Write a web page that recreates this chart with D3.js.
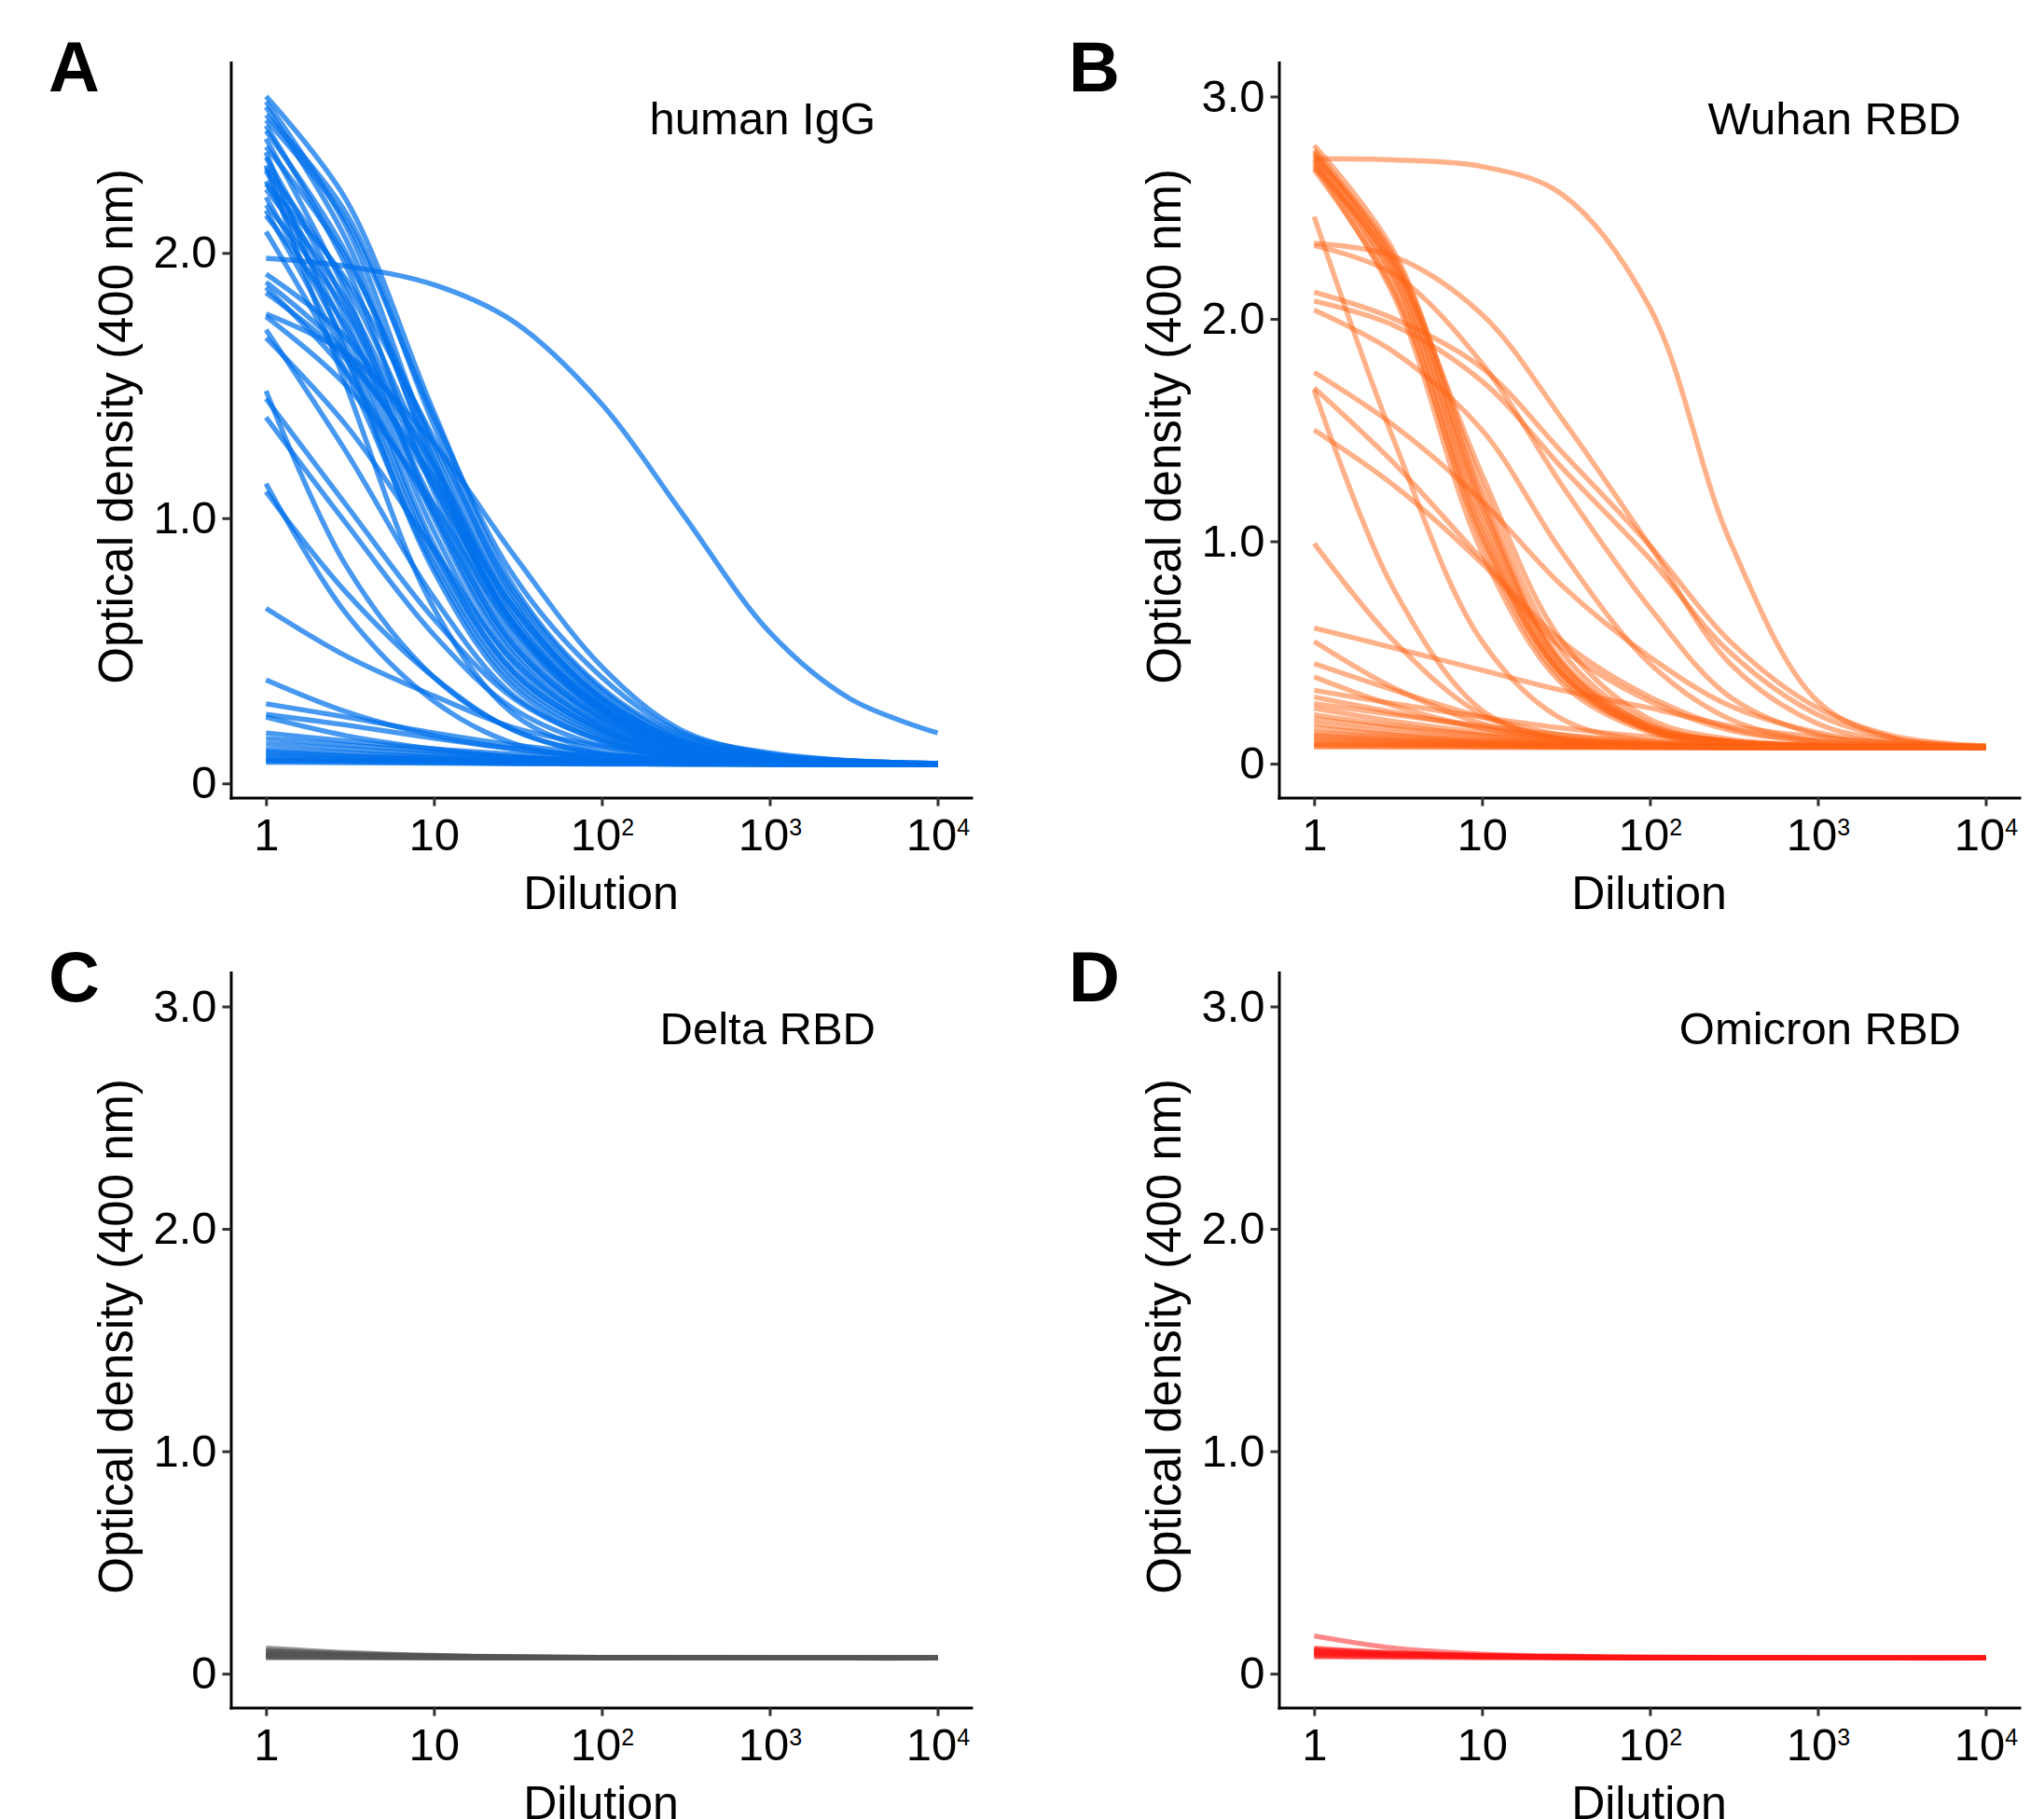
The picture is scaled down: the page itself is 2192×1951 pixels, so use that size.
<!DOCTYPE html>
<html>
<head>
<meta charset="utf-8">
<script src="https://cdn.jsdelivr.net/npm/d3@7/dist/d3.min.js"></script>
<style>
  body { margin: 0; background: #fff; }
  text { font-family: "Liberation Sans", Arial, sans-serif; }
</style>
</head>
<body>
<svg id="chart" width="2192" height="1951"></svg>
<script>
// dilution series every curve is read at
const dilutions = [1, 3, 10, 30, 100, 300, 1000, 3000, 10000];
const xTicks = [1, 10, 100, 1000, 10000];
const xTickLabels = [["1", ""], ["10", ""], ["10", "2"], ["10", "3"], ["10", "4"]];
const yTicksA = [0, 1, 2];
const yTicksB = [0, 1, 2, 3];

// optical density per sample, one row per curve (values at the dilutions above)
const humanIgG = [
  [2.59, 2.20, 1.40, 0.74, 0.36, 0.18, 0.11, 0.085, 0.075],
  [2.57, 2.10, 1.25, 0.64, 0.30, 0.15, 0.10, 0.08, 0.074],
  [2.55, 2.05, 1.20, 0.60, 0.28, 0.14, 0.095, 0.08, 0.074],
  [2.52, 2.15, 1.35, 0.70, 0.33, 0.16, 0.10, 0.082, 0.074],
  [2.50, 2.12, 1.38, 0.78, 0.40, 0.19, 0.115, 0.086, 0.075],
  [2.48, 1.95, 1.10, 0.55, 0.26, 0.13, 0.09, 0.078, 0.073],
  [2.46, 2.00, 1.22, 0.62, 0.29, 0.145, 0.095, 0.08, 0.074],
  [2.43, 1.85, 1.02, 0.50, 0.24, 0.125, 0.09, 0.078, 0.073],
  [2.40, 1.98, 1.28, 0.68, 0.32, 0.16, 0.10, 0.082, 0.074],
  [2.38, 1.62, 0.80, 0.36, 0.17, 0.10, 0.082, 0.075, 0.072],
  [2.36, 1.80, 1.00, 0.48, 0.22, 0.12, 0.088, 0.077, 0.073],
  [2.33, 1.50, 0.66, 0.26, 0.12, 0.09, 0.08, 0.075, 0.072],
  [2.32, 1.88, 1.18, 0.60, 0.28, 0.14, 0.095, 0.08, 0.074],
  [2.31, 1.75, 0.95, 0.45, 0.21, 0.115, 0.085, 0.077, 0.073],
  [2.27, 1.70, 0.90, 0.42, 0.20, 0.11, 0.085, 0.076, 0.073],
  [2.26, 1.90, 1.30, 0.72, 0.35, 0.17, 0.105, 0.083, 0.074],
  [2.24, 1.82, 1.15, 0.60, 0.29, 0.145, 0.095, 0.08, 0.074],
  [2.21, 1.65, 0.88, 0.42, 0.20, 0.11, 0.085, 0.076, 0.073],
  [2.18, 1.78, 1.12, 0.58, 0.27, 0.14, 0.095, 0.08, 0.074],
  [2.16, 1.60, 0.85, 0.40, 0.19, 0.105, 0.082, 0.076, 0.072],
  [2.14, 1.72, 1.05, 0.52, 0.25, 0.13, 0.09, 0.078, 0.073],
  [2.08, 1.55, 0.82, 0.38, 0.18, 0.10, 0.082, 0.075, 0.072],
  [1.98, 1.95, 1.88, 1.74, 1.43, 1.02, 0.57, 0.32, 0.19],
  [1.92, 1.68, 1.20, 0.66, 0.31, 0.15, 0.10, 0.08, 0.074],
  [1.89, 1.62, 1.12, 0.60, 0.28, 0.14, 0.095, 0.08, 0.073],
  [1.87, 1.55, 1.02, 0.52, 0.24, 0.125, 0.09, 0.078, 0.073],
  [1.85, 1.60, 1.15, 0.66, 0.32, 0.16, 0.10, 0.08, 0.074],
  [1.77, 1.62, 1.28, 0.86, 0.44, 0.20, 0.11, 0.085, 0.075],
  [1.76, 1.50, 1.05, 0.58, 0.27, 0.135, 0.09, 0.078, 0.073],
  [1.71, 1.25, 0.70, 0.33, 0.16, 0.10, 0.08, 0.075, 0.072],
  [1.68, 1.35, 0.88, 0.46, 0.22, 0.12, 0.087, 0.076, 0.073],
  [1.48, 0.82, 0.40, 0.20, 0.11, 0.085, 0.076, 0.073, 0.072],
  [1.45, 1.05, 0.62, 0.32, 0.16, 0.10, 0.08, 0.074, 0.072],
  [1.38, 0.98, 0.56, 0.28, 0.14, 0.09, 0.078, 0.074, 0.072],
  [1.13, 0.64, 0.31, 0.15, 0.095, 0.08, 0.075, 0.073, 0.072],
  [1.10, 0.72, 0.40, 0.20, 0.11, 0.085, 0.076, 0.073, 0.072],
  [0.66, 0.48, 0.33, 0.21, 0.14, 0.10, 0.085, 0.077, 0.073],
  [0.39, 0.27, 0.18, 0.13, 0.10, 0.085, 0.078, 0.074, 0.072],
  [0.30, 0.25, 0.19, 0.145, 0.11, 0.09, 0.08, 0.075, 0.072],
  [0.26, 0.22, 0.17, 0.13, 0.10, 0.088, 0.08, 0.075, 0.072],
  [0.25, 0.18, 0.13, 0.10, 0.085, 0.078, 0.074, 0.072, 0.072],
  [0.19, 0.16, 0.13, 0.11, 0.09, 0.08, 0.076, 0.073, 0.072],
  [0.17, 0.145, 0.12, 0.10, 0.088, 0.08, 0.075, 0.073, 0.072],
  [0.15, 0.13, 0.11, 0.095, 0.085, 0.078, 0.074, 0.072, 0.072],
  [0.13, 0.115, 0.10, 0.09, 0.082, 0.077, 0.074, 0.072, 0.072],
  [0.12, 0.105, 0.095, 0.086, 0.08, 0.076, 0.073, 0.072, 0.072],
  [0.11, 0.10, 0.09, 0.083, 0.078, 0.075, 0.073, 0.072, 0.072],
  [0.10, 0.092, 0.085, 0.08, 0.076, 0.074, 0.072, 0.072, 0.072],
  [0.09, 0.086, 0.081, 0.077, 0.075, 0.073, 0.072, 0.072, 0.072],
  [0.085, 0.082, 0.079, 0.076, 0.074, 0.073, 0.072, 0.072, 0.072],
  [0.08, 0.078, 0.076, 0.074, 0.073, 0.072, 0.072, 0.072, 0.072]
];

const wuhanRBD = [
  [2.78, 2.30, 1.20, 0.46, 0.17, 0.10, 0.08, 0.075, 0.072],
  [2.76, 2.25, 1.12, 0.42, 0.16, 0.10, 0.08, 0.075, 0.072],
  [2.75, 2.20, 1.05, 0.40, 0.15, 0.095, 0.08, 0.075, 0.072],
  [2.74, 2.28, 1.25, 0.50, 0.18, 0.10, 0.08, 0.075, 0.072],
  [2.73, 2.26, 1.18, 0.45, 0.17, 0.10, 0.08, 0.075, 0.072],
  [2.72, 2.15, 1.00, 0.38, 0.15, 0.095, 0.08, 0.075, 0.072],
  [2.71, 2.22, 1.15, 0.44, 0.16, 0.10, 0.08, 0.075, 0.072],
  [2.70, 2.18, 1.08, 0.41, 0.16, 0.10, 0.08, 0.075, 0.072],
  [2.69, 2.10, 0.95, 0.36, 0.14, 0.09, 0.08, 0.075, 0.072],
  [2.68, 2.24, 1.30, 0.55, 0.20, 0.11, 0.085, 0.075, 0.072],
  [2.67, 2.12, 1.02, 0.40, 0.15, 0.095, 0.08, 0.075, 0.072],
  [2.72, 2.715, 2.685, 2.56, 2.05, 1.00, 0.28, 0.11, 0.08],
  [2.46, 1.45, 0.55, 0.20, 0.10, 0.082, 0.075, 0.073, 0.072],
  [2.34, 2.28, 2.02, 1.55, 0.98, 0.45, 0.18, 0.10, 0.075],
  [2.33, 2.20, 1.80, 1.25, 0.70, 0.30, 0.13, 0.09, 0.074],
  [2.12, 2.00, 1.78, 1.40, 0.98, 0.55, 0.25, 0.12, 0.08],
  [2.08, 1.97, 1.72, 1.33, 0.92, 0.50, 0.22, 0.11, 0.078],
  [2.04, 1.85, 1.50, 0.95, 0.45, 0.20, 0.10, 0.08, 0.072],
  [1.76, 1.52, 1.18, 0.80, 0.48, 0.26, 0.14, 0.09, 0.075],
  [1.69, 1.35, 0.92, 0.55, 0.30, 0.16, 0.10, 0.08, 0.073],
  [1.68, 0.78, 0.24, 0.11, 0.085, 0.077, 0.074, 0.072, 0.072],
  [1.50, 1.25, 0.90, 0.52, 0.28, 0.15, 0.10, 0.08, 0.074],
  [0.99, 0.55, 0.22, 0.11, 0.085, 0.077, 0.074, 0.072, 0.072],
  [0.61, 0.52, 0.42, 0.33, 0.25, 0.17, 0.12, 0.09, 0.078],
  [0.55, 0.34, 0.18, 0.11, 0.085, 0.077, 0.074, 0.072, 0.072],
  [0.45, 0.33, 0.21, 0.13, 0.095, 0.08, 0.075, 0.072, 0.072],
  [0.39, 0.26, 0.16, 0.11, 0.085, 0.077, 0.074, 0.072, 0.072],
  [0.33, 0.27, 0.21, 0.16, 0.12, 0.095, 0.082, 0.075, 0.072],
  [0.30, 0.23, 0.16, 0.115, 0.09, 0.08, 0.075, 0.073, 0.072],
  [0.27, 0.22, 0.17, 0.13, 0.10, 0.085, 0.078, 0.074, 0.072],
  [0.25, 0.19, 0.14, 0.105, 0.088, 0.078, 0.074, 0.072, 0.072],
  [0.22, 0.17, 0.13, 0.10, 0.085, 0.077, 0.074, 0.072, 0.072],
  [0.20, 0.16, 0.125, 0.10, 0.085, 0.078, 0.074, 0.072, 0.072],
  [0.18, 0.14, 0.11, 0.092, 0.082, 0.076, 0.073, 0.072, 0.072],
  [0.16, 0.13, 0.105, 0.09, 0.08, 0.075, 0.073, 0.072, 0.072],
  [0.14, 0.12, 0.10, 0.087, 0.079, 0.075, 0.073, 0.072, 0.072],
  [0.13, 0.11, 0.095, 0.085, 0.078, 0.074, 0.073, 0.072, 0.072],
  [0.12, 0.105, 0.092, 0.083, 0.077, 0.074, 0.072, 0.072, 0.072],
  [0.11, 0.10, 0.089, 0.081, 0.076, 0.073, 0.072, 0.072, 0.072],
  [0.10, 0.093, 0.085, 0.079, 0.075, 0.073, 0.072, 0.072, 0.072],
  [0.09, 0.087, 0.082, 0.077, 0.074, 0.073, 0.072, 0.072, 0.072],
  [0.085, 0.082, 0.079, 0.076, 0.074, 0.073, 0.072, 0.072, 0.072],
  [0.08, 0.078, 0.076, 0.074, 0.073, 0.072, 0.072, 0.072, 0.072],
  [0.075, 0.074, 0.073, 0.073, 0.072, 0.072, 0.072, 0.072, 0.072]
];

const deltaRBD = [
  [0.115, 0.095, 0.082, 0.076, 0.073, 0.072, 0.071, 0.071, 0.071],
  [0.105, 0.09, 0.08, 0.075, 0.073, 0.072, 0.071, 0.071, 0.071],
  [0.10, 0.088, 0.079, 0.075, 0.073, 0.072, 0.071, 0.071, 0.071],
  [0.095, 0.085, 0.078, 0.074, 0.072, 0.071, 0.071, 0.07, 0.07],
  [0.09, 0.083, 0.077, 0.074, 0.072, 0.071, 0.07, 0.07, 0.07],
  [0.088, 0.082, 0.076, 0.073, 0.072, 0.071, 0.07, 0.07, 0.07],
  [0.085, 0.08, 0.076, 0.073, 0.072, 0.071, 0.07, 0.07, 0.07],
  [0.082, 0.078, 0.075, 0.073, 0.071, 0.07, 0.07, 0.07, 0.07],
  [0.08, 0.077, 0.074, 0.072, 0.071, 0.07, 0.07, 0.07, 0.07],
  [0.078, 0.075, 0.073, 0.072, 0.071, 0.07, 0.07, 0.07, 0.07],
  [0.075, 0.074, 0.072, 0.071, 0.07, 0.07, 0.07, 0.07, 0.07],
  [0.072, 0.071, 0.071, 0.07, 0.07, 0.07, 0.07, 0.07, 0.07]
];

const omicronRBD = [
  [0.17, 0.115, 0.088, 0.079, 0.075, 0.073, 0.072, 0.071, 0.071],
  [0.115, 0.094, 0.082, 0.076, 0.073, 0.072, 0.071, 0.071, 0.071],
  [0.11, 0.092, 0.081, 0.076, 0.073, 0.072, 0.071, 0.071, 0.071],
  [0.105, 0.09, 0.08, 0.075, 0.073, 0.072, 0.071, 0.071, 0.071],
  [0.10, 0.088, 0.079, 0.075, 0.072, 0.071, 0.071, 0.071, 0.071],
  [0.095, 0.085, 0.078, 0.074, 0.072, 0.071, 0.071, 0.07, 0.07],
  [0.09, 0.083, 0.077, 0.074, 0.072, 0.071, 0.07, 0.07, 0.07],
  [0.085, 0.08, 0.076, 0.073, 0.071, 0.071, 0.07, 0.07, 0.07],
  [0.08, 0.077, 0.074, 0.072, 0.071, 0.07, 0.07, 0.07, 0.07],
  [0.076, 0.074, 0.072, 0.071, 0.07, 0.07, 0.07, 0.07, 0.07]
];

const panels = [
  { tag: "A", tagX: 52, tagY: 98, label: "human IgG", labelX: 939, labelY: 144,
    curves: humanIgG, yDomain: [-0.054, 2.718], yTicks: yTicksA,
    left: 247.5, top: 67, color: "#0070eb", alpha: 0.72 },
  { tag: "B", tagX: 1146, tagY: 98, label: "Wuhan RBD", labelX: 2103, labelY: 144,
    curves: wuhanRBD, yDomain: [-0.153, 3.153], yTicks: yTicksB,
    left: 1371.5, top: 67, color: "#ff6414", alpha: 0.5 },
  { tag: "C", tagX: 52, tagY: 1074, label: "Delta RBD", labelX: 939, labelY: 1120,
    curves: deltaRBD, yDomain: [-0.153, 3.153], yTicks: yTicksB,
    left: 247.5, top: 1043, color: "#555555", alpha: 0.6 },
  { tag: "D", tagX: 1146, tagY: 1074, label: "Omicron RBD", labelX: 2103, labelY: 1120,
    curves: omicronRBD, yDomain: [-0.153, 3.153], yTicks: yTicksB,
    left: 1371.5, top: 1043, color: "#ff1414", alpha: 0.5 }
];

const width = 794, height = 788.6;
const fontSize = 49;
const svg = d3.select("#chart");

svg.append("rect").attr("width", 2192).attr("height", 1951).attr("fill", "#fff");

panels.forEach(p => {
  const g = svg.append("g").attr("transform", `translate(${p.left},${p.top})`);

  // ggplot-style 5% expansion on log axis
  const x = d3.scaleLog()
    .domain([Math.pow(10, -0.21), Math.pow(10, 4.2)])
    .range([0, width]);
  const y = d3.scaleLinear()
    .domain(p.yDomain)
    .range([height, 0]);

  const line = d3.line()
    .x((d, i) => x(dilutions[i]))
    .y(d => y(d))
    .curve(d3.curveCatmullRom.alpha(0.5));

  g.append("g")
    .selectAll("path")
    .data(p.curves)
    .join("path")
    .attr("d", line)
    .attr("fill", "none")
    .attr("stroke", p.color)
    .attr("stroke-opacity", p.alpha)
    .attr("stroke-width", 5.4);

  // axes
  const xAxis = d3.axisBottom(x)
    .tickValues(xTicks)
    .tickSize(9)
    .tickSizeOuter(0)
    .tickPadding(13)
    .tickFormat("");

  const gx = g.append("g")
    .attr("transform", `translate(0,${height})`)
    .call(xAxis);

  gx.selectAll(".tick text").each(function(d, i) {
    const t = d3.select(this)
      .attr("font-size", fontSize)
      .attr("fill", "#000");
    t.append("tspan").text(xTickLabels[i][0]);
    if (xTickLabels[i][1]) {
      t.append("tspan")
        .attr("font-size", 25)
        .attr("dy", -16)
        .text(xTickLabels[i][1]);
    }
  });

  const yAxis = d3.axisLeft(y)
    .tickValues(p.yTicks)
    .tickSize(9)
    .tickSizeOuter(0)
    .tickPadding(6)
    .tickFormat(d => d === 0 ? "0" : d3.format(".1f")(d));

  const gy = g.append("g").call(yAxis);
  gy.selectAll(".tick text")
    .attr("font-size", fontSize)
    .attr("fill", "#000");

  [gx, gy].forEach(a => {
    a.attr("font-family", null);
    a.select(".domain").attr("stroke", "#000").attr("stroke-width", 3).attr("stroke-linecap", "square");
    a.selectAll(".tick line").attr("stroke", "#333").attr("stroke-width", 3);
  });

  // titles
  g.append("text")
    .attr("x", width / 2)
    .attr("y", height + 119)
    .attr("text-anchor", "middle")
    .attr("font-size", 50)
    .text("Dilution");

  g.append("text")
    .attr("transform", `translate(-106,${height / 2 - 4}) rotate(-90)`)
    .attr("text-anchor", "middle")
    .attr("font-size", 51)
    .text("Optical density (400 nm)");

  svg.append("text")
    .attr("x", p.labelX)
    .attr("y", p.labelY)
    .attr("text-anchor", "end")
    .attr("font-size", fontSize)
    .text(p.label);

  svg.append("text")
    .attr("x", p.tagX)
    .attr("y", p.tagY)
    .attr("font-size", 76)
    .attr("font-weight", "bold")
    .text(p.tag);
});
</script>
</body>
</html>
